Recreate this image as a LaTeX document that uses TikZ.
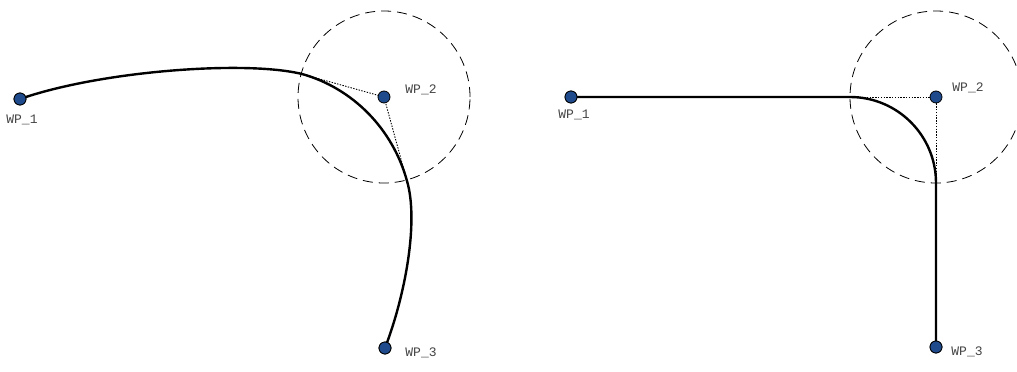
\documentclass[tikz,border=0pt]{standalone}
\usepackage{fontspec}
\usetikzlibrary{calc}
\newfontfamily\labfont{Liberation Mono}
\definecolor{wpblue}{HTML}{1F4B8C}
\definecolor{labgray}{HTML}{444444}
\tikzset{
  wp/.style={circle,draw=black,line width=0.8pt,fill=wpblue,minimum size=12pt,inner sep=0pt},
  wplabel/.style={font=\labfont\fontsize{13pt}{14pt}\selectfont,text=labgray,inner sep=0pt},
  pathline/.style={line width=2.4pt,line cap=round},
  radiuscircle/.style={line width=0.8pt,dash pattern=on 10pt off 6pt},
  guide/.style={line width=0.9pt,dash pattern=on 1.4pt off 1.4pt}
}
\begin{document}
\begin{tikzpicture}[x=1pt,y=-1pt]
\useasboundingbox (0,0) rectangle (1017,372);
% ---------- left diagram ----------
\coordinate (c2a) at (384,97);
\coordinate (ina) at (302,74);
\coordinate (outa) at (407,181);
\draw[radiuscircle] (c2a) circle[radius=86pt];
\draw[guide] (ina) -- (c2a) -- (outa);
\node[wp] (wp1a) at (20,99) {};
\node[wp] (wp2a) at (c2a) {};
\node[wp] (wp3a) at (385,348) {};
\draw[pathline] (wp1a.center) .. controls (100,71) and (245,60) .. (ina)
  .. controls ($(ina)!0.62!(c2a)$) and ($(outa)!0.62!(c2a)$) .. (outa)
  .. controls (419,222) and (405,296) .. (wp3a.center);
\node[wp] at (wp1a) {};
\node[wp] at (wp3a) {};
\node[wplabel] (l1a) at (22,120) {WP\_1};
\node[wplabel] (l2a) at (421,90) {WP\_2};
\node[wplabel] (l3a) at (421,353) {WP\_3};
% ---------- right diagram ----------
\coordinate (c2b) at (936,97);
\coordinate (inb) at (850,97);
\coordinate (outb) at (936,183);
\draw[radiuscircle] (c2b) circle[radius=86pt];
\draw[guide] (inb) -- (c2b) -- (outb);
\node[wp] (wp1b) at (571,97) {};
\node[wp] (wp2b) at (c2b) {};
\node[wp] (wp3b) at (936,347) {};
\draw[pathline] (wp1b.center) -- (inb)
  .. controls ($(inb)!0.5523!(c2b)$) and ($(outb)!0.5523!(c2b)$) .. (outb)
  -- (wp3b.center);
\node[wp] at (wp1b) {};
\node[wp] at (wp3b) {};
\node[wplabel] (l1b) at (574,115) {WP\_1};
\node[wplabel] (l2b) at (968,88) {WP\_2};
\node[wplabel] (l3b) at (967,352) {WP\_3};
\end{tikzpicture}
\end{document}
